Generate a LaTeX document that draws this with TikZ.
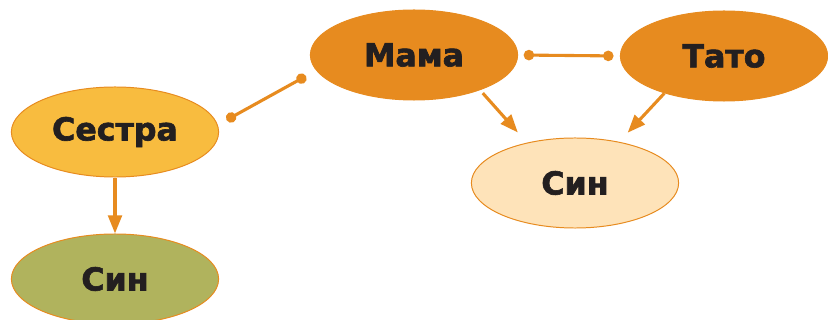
\documentclass[tikz,border=0pt]{standalone}
\usepackage{fontspec}
\setmainfont{DejaVu Sans}[BoldFeatures={FakeBold=2}]
\usetikzlibrary{shapes.geometric,arrows.meta}
\definecolor{orangedark}{HTML}{E78B1F}
\definecolor{sestrafill}{HTML}{F8BC3F}
\definecolor{sinlight}{HTML}{FEE3B9}
\definecolor{sinolive}{HTML}{B0B35D}
\definecolor{textblack}{HTML}{231F20}
\begin{document}
\begin{tikzpicture}[x=0.025cm,y=-0.025cm]
	\tikzstyle{every node}=[font=\fontsize{22.5}{26}\selectfont\bfseries, text=textblack]
	\tikzstyle{member}=[ellipse, draw=orangedark, line width=0.7pt, minimum width=5.18cm, minimum height=2.25cm, inner sep=0pt]
	\tikzstyle{link}=[line width=2.2pt, orangedark, {Circle[length=0.26cm]}-{Circle[length=0.26cm]}]
	\tikzstyle{child}=[line width=2.2pt, orangedark, -{Triangle[length=0.45cm,width=0.34cm]}]
	\useasboundingbox (0,0) rectangle (828,320);
	\node [member, fill=orangedark] (mama) at (414,55) {Мама};
	\node [member, fill=orangedark] (tato) at (724,56) {Тато};
	\node [member, fill=sinlight] (sinr) at (575,183) {Син};
	\node [member, fill=sestrafill] (sestra) at (115,132) {Сестра};
	\node [member, fill=sinolive] (sinl) at (115,279) {Син};
	\draw [link, shorten <=0.25cm, shorten >=0.29cm] (sestra.4) -- (mama.189);
	\draw [link, shorten <=0.14cm, shorten >=0.16cm] (mama.east) -- (tato.west);
	\draw [child, shorten <=0.1cm, shorten >=0.34cm] (mama.332) -- (sinr.140);
	\draw [child, shorten >=0.31cm] (tato.212) -- (sinr.43);
	\draw [child] (sestra) -- (sinl);
\end{tikzpicture}
\end{document}
